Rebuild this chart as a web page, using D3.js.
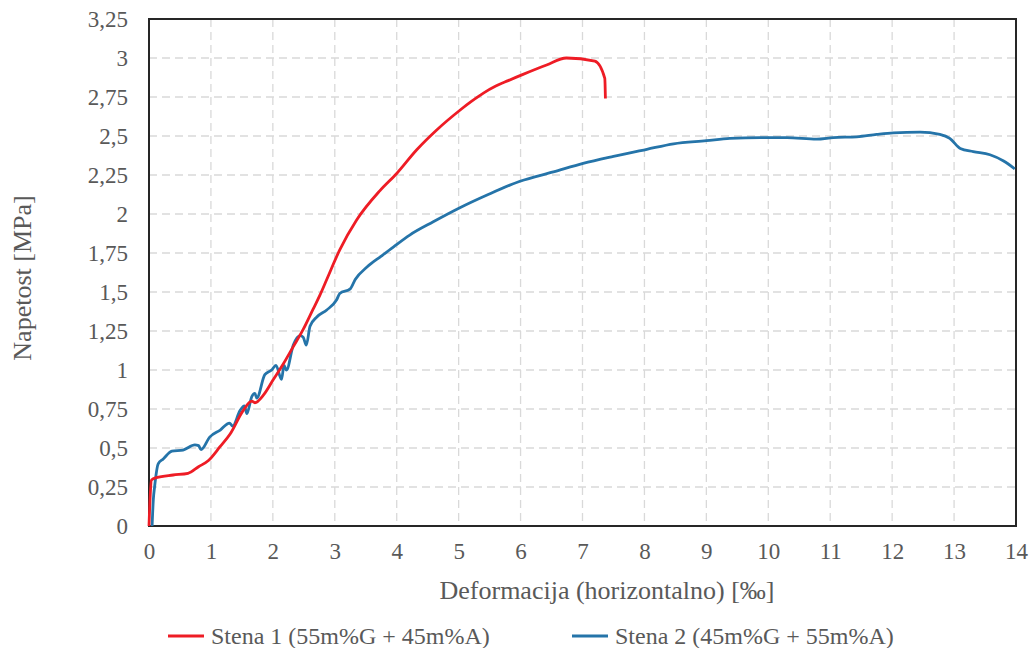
<!DOCTYPE html>
<html>
<head>
<meta charset="utf-8">
<script src="https://cdn.jsdelivr.net/npm/d3@7"></script>
<style>
  body { margin: 0; background: #fff; }
  text { font-family: "Liberation Serif", "Times New Roman", serif; fill: #595959; }
</style>
</head>
<body>
<div id="chart"></div>
<script>
// Stena 1 (55m%G + 45m%A) - deformacija [‰], napetost [MPa]
const stena1X = [0, 0.02, 0.04, 0.12, 0.39, 0.63, 0.80, 0.96, 1.15, 1.31, 1.52, 1.66, 1.71, 1.85, 2.01, 2.17, 2.33, 2.49, 2.65, 2.76, 2.87, 3.08, 3.35, 3.73, 4.0, 4.32, 4.65, 5.02, 5.2, 5.4, 5.6, 5.8, 6.04, 6.42, 6.74, 7.20, 7.36, 7.37];
const stena1Y = [0, 0.2, 0.295, 0.31, 0.327, 0.338, 0.38, 0.42, 0.51, 0.59, 0.74, 0.80, 0.79, 0.84, 0.94, 1.04, 1.15, 1.26, 1.39, 1.48, 1.58, 1.77, 1.96, 2.15, 2.26, 2.41, 2.54, 2.665, 2.72, 2.775, 2.82, 2.855, 2.895, 2.955, 3.0, 2.98, 2.87, 2.74];

// Stena 2 (45m%G + 55m%A)
const stena2X = [0.05, 0.07, 0.09, 0.15, 0.23, 0.37, 0.55, 0.74, 0.80, 0.84, 0.98, 1.15, 1.30, 1.35, 1.47, 1.54, 1.58, 1.66, 1.71, 1.74, 1.87, 1.98, 2.05, 2.14, 2.18, 2.22, 2.33, 2.44, 2.49, 2.54, 2.60, 2.71, 2.87, 3.03, 3.08, 3.25, 3.33, 3.52, 3.75, 3.95, 4.21, 4.59, 5.02, 5.45, 5.99, 6.53, 7.01, 7.50, 8.04, 8.47, 9.0, 9.38, 9.87, 10.30, 10.78, 11.05, 11.43, 11.75, 12.02, 12.45, 12.77, 12.93, 13.10, 13.31, 13.58, 13.80, 13.98];
const stena2Y = [0, 0.17, 0.25, 0.40, 0.43, 0.48, 0.487, 0.52, 0.515, 0.49, 0.57, 0.615, 0.66, 0.64, 0.74, 0.77, 0.72, 0.83, 0.85, 0.82, 0.97, 1.0, 1.03, 0.94, 1.03, 1.0, 1.16, 1.22, 1.21, 1.16, 1.28, 1.34, 1.385, 1.45, 1.49, 1.52, 1.58, 1.66, 1.73, 1.79, 1.865, 1.95, 2.04, 2.12, 2.21, 2.27, 2.325, 2.37, 2.415, 2.45, 2.47, 2.485, 2.49, 2.49, 2.48, 2.49, 2.495, 2.51, 2.52, 2.525, 2.51, 2.485, 2.42, 2.40, 2.38, 2.34, 2.29];

const xTicks = d3.range(0, 15, 1);
const yTicks = [0, 0.25, 0.5, 0.75, 1, 1.25, 1.5, 1.75, 2, 2.25, 2.5, 2.75, 3, 3.25];
const seriesNames = ["Stena 1 (55m%G + 45m%A)", "Stena 2 (45m%G + 55m%A)"];
const colors = ["#ee1c25", "#2574a9"];

const width = 1033, height = 648;
const plotLeft = 149, plotRight = 1016, plotTop = 19, plotBottom = 526;
const serif = '"Liberation Serif", "Times New Roman", serif';

const svg = d3.select("#chart").append("svg")
  .attr("width", width)
  .attr("height", height);

const x = d3.scaleLinear().domain([0, 14]).range([plotLeft, plotRight]);
const y = d3.scaleLinear().domain([0, 3.25]).range([plotBottom, plotTop]);

const fmt = d => String(d).replace(".", ",");

// mreža
svg.append("g").selectAll("line")
  .data(xTicks.slice(1, -1))
  .enter().append("line")
  .attr("x1", d => x(d)).attr("x2", d => x(d))
  .attr("y1", plotTop).attr("y2", plotBottom)
  .attr("stroke", "#d9d9d9").attr("stroke-width", 1.3)
  .attr("stroke-dasharray", "8,5");

svg.append("g").selectAll("line")
  .data(yTicks.slice(1, -1))
  .enter().append("line")
  .attr("x1", plotLeft).attr("x2", plotRight)
  .attr("y1", d => y(d)).attr("y2", d => y(d))
  .attr("stroke", "#d9d9d9").attr("stroke-width", 1.3)
  .attr("stroke-dasharray", "8,5");

// okvir
svg.append("rect")
  .attr("x", plotLeft).attr("y", plotTop)
  .attr("width", plotRight - plotLeft).attr("height", plotBottom - plotTop)
  .attr("fill", "none").attr("stroke", "#262626").attr("stroke-width", 2);

// osi
const xAxis = svg.append("g")
  .attr("transform", `translate(0, ${plotBottom})`)
  .call(d3.axisBottom(x).tickValues(xTicks).tickSize(0).tickPadding(17).tickFormat(fmt));
const yAxis = svg.append("g")
  .attr("transform", `translate(${plotLeft}, 0)`)
  .call(d3.axisLeft(y).tickValues(yTicks).tickSize(0).tickPadding(21).tickFormat(fmt));
[xAxis, yAxis].forEach(a => {
  a.select(".domain").remove();
  a.attr("font-family", null).attr("font-size", null);
  a.selectAll("text")
    .style("font-family", serif)
    .style("font-size", "23px")
    .style("fill", "#595959");
});

// linije
const line = d3.line().x(d => x(d[0])).y(d => y(d[1])).curve(d3.curveMonotoneX);
const data1 = stena1X.map((v, i) => [v, stena1Y[i]]);
const data2 = stena2X.map((v, i) => [v, stena2Y[i]]);

svg.append("path")
  .datum(data2)
  .attr("fill", "none")
  .attr("stroke", colors[1])
  .attr("stroke-width", 2.8)
  .attr("stroke-linejoin", "round")
  .attr("d", line);

svg.append("path")
  .datum(data1)
  .attr("fill", "none")
  .attr("stroke", colors[0])
  .attr("stroke-width", 2.8)
  .attr("stroke-linejoin", "round")
  .attr("d", line);

// naslovi osi
svg.append("text")
  .attr("x", 607).attr("y", 599)
  .attr("text-anchor", "middle")
  .style("font-family", serif)
  .style("font-size", "26px")
  .text("Deformacija (horizontalno) [‰]");

svg.append("text")
  .attr("transform", "translate(31, 278) rotate(-90)")
  .attr("text-anchor", "middle")
  .style("font-family", serif)
  .style("font-size", "26px")
  .text("Napetost [MPa]");

// legenda
const legendX = [168, 572];
seriesNames.forEach((name, i) => {
  svg.append("line")
    .attr("x1", legendX[i]).attr("x2", legendX[i] + 36)
    .attr("y1", 636).attr("y2", 636)
    .attr("stroke", colors[i]).attr("stroke-width", 2.8);
  svg.append("text")
    .attr("x", legendX[i] + 43).attr("y", 644)
    .style("font-family", serif)
    .style("font-size", "24px")
    .text(name);
});
</script>
</body>
</html>
